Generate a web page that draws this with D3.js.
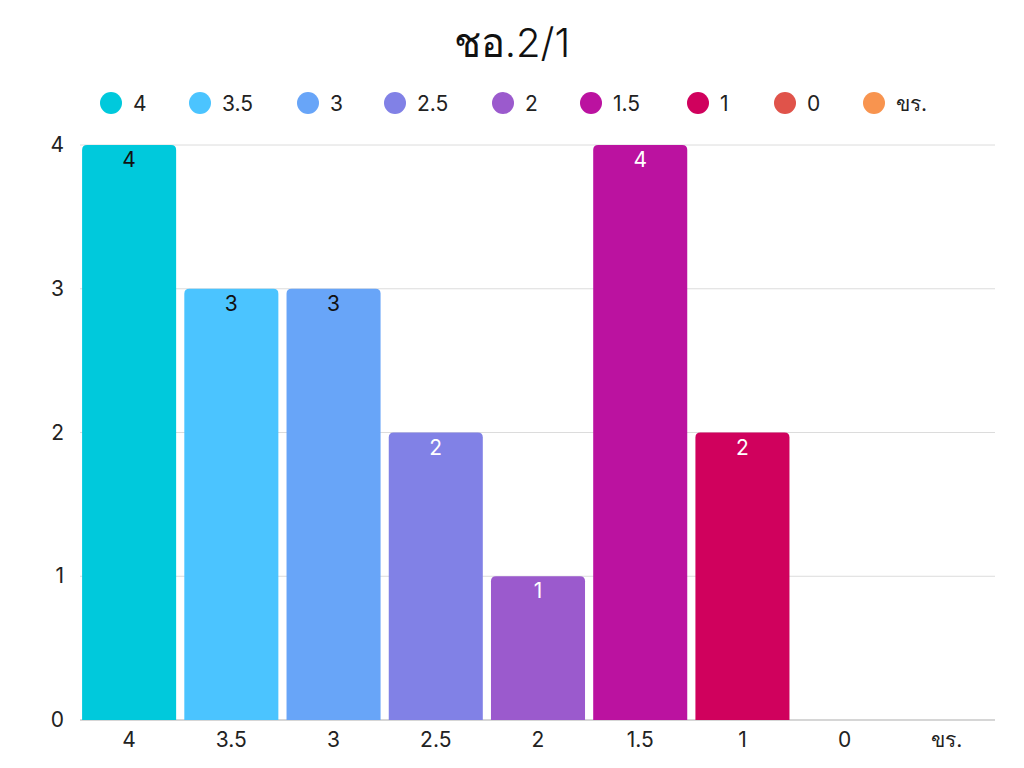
<!DOCTYPE html>
<html>
<head>
<meta charset="utf-8">
<script src="https://cdn.jsdelivr.net/npm/d3@7"></script>
<style>
  body { margin: 0; background: #fff; }
  text { font-family: Inter, "Noto Sans", sans-serif; }
</style>
</head>
<body>
<div id="chart"></div>
<script>
const title = "ชอ.2/1";
const categories = ["4", "3.5", "3", "2.5", "2", "1.5", "1", "0", "ขร."];
const counts = [4, 3, 3, 2, 1, 4, 2, 0, 0];
const colors = ["#00c9dc", "#4bc4ff", "#68a5f8", "#8181e6", "#9b5acd", "#bb12a0", "#d0015d", "#e0534a", "#f8944f"];
const yTicks = [0, 1, 2, 3, 4];

const width = 1024, height = 768;
const margin = { top: 145, right: 26, bottom: 48, left: 78 };
const innerW = width - margin.left - margin.right;
const innerH = height - margin.top - margin.bottom;

const svg = d3.select("#chart").append("svg")
    .attr("width", width)
    .attr("height", height);

// Title
svg.append("text")
    .attr("x", width / 2)
    .attr("y", 57)
    .attr("text-anchor", "middle")
    .style("font-size", "40px")
    .style("font-weight", "300")
    .style("fill", "#111")
    .text(title);

// Legend
const legendX = [111, 200, 308, 395, 503, 591, 698, 785, 874];
const legend = svg.append("g").selectAll("g")
    .data(categories)
    .enter().append("g")
    .attr("transform", (d, i) => "translate(" + legendX[i] + ",103)");
legend.append("circle")
    .attr("r", 11)
    .style("fill", (d, i) => colors[i]);
legend.append("text")
    .attr("x", 22)
    .attr("dy", "0.36em")
    .style("font-size", "21px")
    .style("fill", "#222")
    .text(d => d);

const g = svg.append("g")
    .attr("transform", "translate(" + margin.left + "," + margin.top + ")");

const x = d3.scaleBand()
    .domain(categories)
    .range([0, innerW])
    .paddingInner(0.08)
    .paddingOuter(0.04);

const y = d3.scaleLinear()
    .domain([0, 4])
    .range([innerH, 0]);

// Gridlines
g.append("g")
    .selectAll("line")
    .data(yTicks)
    .enter().append("line")
    .attr("x1", 2)
    .attr("x2", innerW - 3)
    .attr("y1", d => y(d))
    .attr("y2", d => y(d))
    .style("stroke", d => d === 0 ? "#c8c8c8" : "#dcdcdc")
    .style("stroke-width", d => d === 0 ? 1.5 : 1);

// Y axis labels
const yAxis = g.append("g")
    .call(d3.axisLeft(y).tickValues(yTicks).tickSize(0).tickPadding(14).tickFormat(d3.format("d")));
yAxis.select(".domain").remove();
yAxis.selectAll("text")
    .style("font-size", "21px")
    .style("fill", "#222")
    .style("font-family", "Inter, 'Noto Sans', sans-serif");

// X axis labels
const xAxis = g.append("g")
    .attr("transform", "translate(0," + innerH + ")")
    .call(d3.axisBottom(x).tickSize(0).tickPadding(12));
xAxis.select(".domain").remove();
xAxis.selectAll("text")
    .style("font-size", "21px")
    .style("fill", "#222")
    .style("font-family", "Inter, 'Noto Sans', sans-serif");

// Bars with rounded top corners
function barPath(x0, y0, w, h, r) {
    if (h <= 0) return "";
    r = Math.min(r, h, w / 2);
    return "M" + x0 + "," + (y0 + h) +
        "V" + (y0 + r) +
        "Q" + x0 + "," + y0 + " " + (x0 + r) + "," + y0 +
        "H" + (x0 + w - r) +
        "Q" + (x0 + w) + "," + y0 + " " + (x0 + w) + "," + (y0 + r) +
        "V" + (y0 + h) + "Z";
}

const data = categories.map((c, i) => ({ cat: c, value: counts[i], color: colors[i] }));

g.selectAll(".bar")
    .data(data)
    .enter().append("path")
    .attr("class", "bar")
    .attr("d", d => barPath(x(d.cat), y(d.value), x.bandwidth(), innerH - y(d.value), 5))
    .style("fill", d => d.color);

// Value labels
const darkText = ["4", "3.5", "3"];
g.selectAll(".val")
    .data(data.filter(d => d.value > 0))
    .enter().append("text")
    .attr("class", "val")
    .attr("x", d => x(d.cat) + x.bandwidth() / 2)
    .attr("y", d => y(d.value) + 22)
    .attr("text-anchor", "middle")
    .style("font-size", "21px")
    .style("fill", d => darkText.includes(d.cat) ? "#111" : "#fff")
    .text(d => d.value);
</script>
</body>
</html>
